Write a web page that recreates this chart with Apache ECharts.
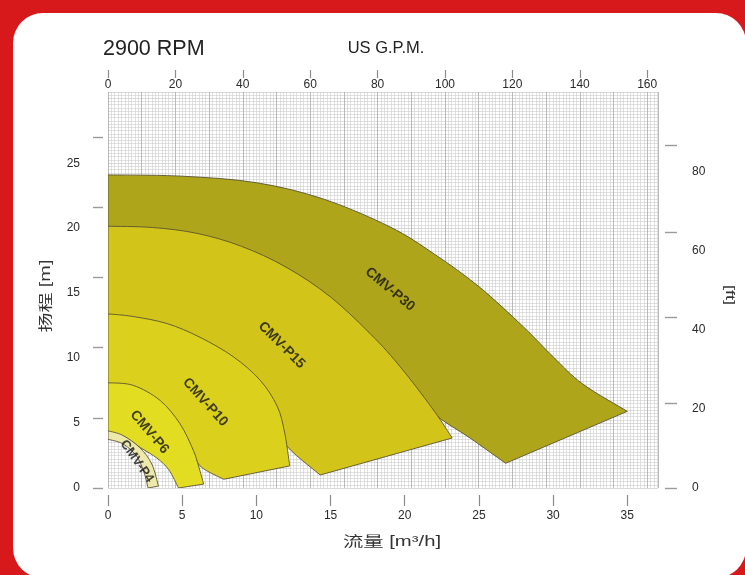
<!DOCTYPE html>
<html>
<head>
<meta charset="utf-8">
<script src="https://cdn.jsdelivr.net/npm/echarts@6/dist/echarts.min.js"></script>
<style>html,body{margin:0;padding:0;background:#d7191c;}#c{width:745px;height:575px;}</style>
</head>
<body>
<div id="c"></div>
<script>
// ---- axis ticks / labels ----
const flowTicks = [0, 5, 10, 15, 20, 25, 30, 35];          // m³/h
const gpmTicks = [0, 20, 40, 60, 80, 100, 120, 140, 160];   // US G.P.M.
const headTicks = [0, 5, 10, 15, 20, 25];                   // m
const feetTicks = [0, 20, 40, 60, 80];                      // ft
const headDashes = [0, 5.4, 10.8, 16.2, 21.6, 27.0];        // m
const feetDashes = [0, 21.3, 43.1, 64.7, 86.5];             // ft
const flowMax = 37.07;   // m³/h
const headMax = 30.48;   // m  (= 100 ft)

// ---- pump ranges: [flow m³/h, head m] ----
const pumpNames = ['CMV-P30', 'CMV-P15', 'CMV-P10', 'CMV-P6', 'CMV-P4'];
const p30Top = [[0,24.1],[5,24.0],[10,23.5],[14.5,22.25],[19,20.1],[22,18.0],[25,15.5],[28,12.4],[30,10.1],[32,8.0],[35.0,5.9]];
const p30Bottom = [[0,19.8],[6,19.3],[12,16.7],[15,14.4],[18,11.0],[20,8.5],[21.9,5.8],[24.4,3.85],[26.8,1.9]];
const p15Top = [[0,20.15],[3,20.05],[6,19.6],[9,18.6],[12,17.0],[15,14.7],[18,11.5],[20,8.9],[22,5.9],[23.2,3.85]];
const p15Bottom = [[0,13.2],[4.0,12.45],[6.2,11.4],[8.45,9.9],[10.25,8.1],[11.2,6.4],[11.8,3.6],[14.3,1.0]];
const p10Top = [[0,13.4],[1.7,13.2],[4.0,12.65],[6.2,11.6],[8.45,10.1],[10.25,8.3],[11.4,6.3],[11.9,4.3],[12.25,1.7]];
const p10Bottom = [[0,7.95],[1.7,7.75],[3.5,6.6],[4.85,4.8],[5.75,2.7],[6.3,1.6],[7.8,0.67]];
const p6Top = [[0,8.1],[1.7,7.9],[3.5,6.75],[4.85,4.95],[5.75,2.9],[6.1,1.7],[6.45,0.3]];
const p6Bottom = [[0,4.3],[1.0,4.0],[2.2,3.1],[3.3,2.3],[4.1,1.4],[4.75,0]];
const p4Top = [[0,4.4],[1.0,4.05],[2.15,3.1],[2.95,1.85],[3.4,0.15]];
const p4Bottom = [[0,3.75],[1.0,3.4],[1.9,2.5],[2.4,1.3],[2.7,0]];

const pumpTops = [p30Top, p15Top, p10Top, p6Top, p4Top];
const pumpBottoms = [p30Bottom, p15Bottom, p10Bottom, p6Bottom, p4Bottom];

// ---- styling (kept separate from data) ----
const pumpColors = ['#aea51a', '#d3c41a', '#dbd11d', '#e3dd22', '#ede9ab'];
const labelSpots = [
  {at: [19.0, 15.3], rot: -40, size: 14},
  {at: [11.7, 11.0], rot: -45, size: 14},
  {at: [6.55, 6.6], rot: -48, size: 14},
  {at: [2.8, 4.3], rot: -50, size: 14},
  {at: [1.95, 2.05], rot: -55, size: 13}
];
const GPM_PER_M3H = 4.40287;

function smoothSeg(pts) {
  let d = '';
  for (let i = 0; i < pts.length - 1; i++) {
    const p0 = pts[i - 1] || pts[i], p1 = pts[i], p2 = pts[i + 1], p3 = pts[i + 2] || pts[i + 1];
    const c1 = [p1[0] + (p2[0] - p0[0]) / 6, p1[1] + (p2[1] - p0[1]) / 6];
    const c2 = [p2[0] - (p3[0] - p1[0]) / 6, p2[1] - (p3[1] - p1[1]) / 6];
    d += ' C' + c1[0] + ',' + c1[1] + ' ' + c2[0] + ',' + c2[1] + ' ' + p2[0] + ',' + p2[1];
  }
  return d;
}

const chart = echarts.init(document.getElementById('c'), null, {renderer: 'canvas'});
const axisText = {color: '#2a2a2a', fontSize: 12, fontFamily: 'Liberation Sans, Arial, sans-serif'};
const nameFont = 'Liberation Sans, Arial, "Noto Sans CJK SC", sans-serif';
const noZero = {show: false, onZero: false};

const option = {
  animation: false,
  backgroundColor: '#d7191c',
  graphic: [
    {
      type: 'rect', z: -10, silent: true,
      shape: {x: 13, y: 13, width: 733, height: 565, r: 30},
      style: {fill: '#ffffff'}
    },
    { // left axis name (stretched along baseline as in the original)
      type: 'text', x: 46, y: 296, rotation: Math.PI / 2, scaleX: 1.42, z: 10,
      style: {text: '扬程 [m]', fontSize: 14, fontFamily: nameFont, fill: '#333', align: 'center', verticalAlign: 'middle'}
    },
    { // bottom axis name
      type: 'text', x: 392, y: 542, scaleX: 1.45, z: 10,
      style: {text: '流量 [m³/h]', fontSize: 14, fontFamily: nameFont, fill: '#333', align: 'center', verticalAlign: 'middle'}
    },
    { // right axis name
      type: 'text', x: 730, y: 295, rotation: -Math.PI / 2, scaleX: 1.39, z: 10,
      style: {text: '[ft]', fontSize: 13, fontFamily: nameFont, fill: '#333', align: 'center', verticalAlign: 'middle'}
    }
  ],
  title: {
    text: '2900 RPM', left: 103, top: 38, padding: 0,
    textStyle: {fontSize: 21.5, fontWeight: 'normal', color: '#222', fontFamily: 'Liberation Sans, Arial, sans-serif'}
  },
  grid: {left: 108, right: 87, top: 92, bottom: 87, containLabel: false},
  xAxis: [
    { // bottom: flow m³/h
      type: 'value', position: 'bottom', min: 0, max: flowMax, interval: 5, offset: 7,
      axisLine: noZero,
      axisTick: {show: true, length: 11, customValues: flowTicks, lineStyle: {color: '#8a8a8a', width: 1.2}},
      axisLabel: {customValues: flowTicks, margin: 15, ...axisText},
      splitLine: {show: false}
    },
    { // top: US GPM labels + grid
      type: 'value', position: 'top', min: 0, max: flowMax * GPM_PER_M3H, interval: 10,
      axisLine: noZero, axisTick: {show: false},
      axisLabel: {customValues: gpmTicks, margin: 1, ...axisText},
      splitLine: {show: true, lineStyle: {color: '#aaaaaa', width: 0.8}},
      minorSplitLine: {show: true, lineStyle: {color: '#cdcdcd', width: 0.6}},
      minorTick: {splitNumber: 10},
      name: 'US G.P.M.', nameLocation: 'middle', nameGap: 35,
      nameTextStyle: {fontSize: 16.5, color: '#222', fontFamily: nameFont, padding: [0, 0, 0, 6]}
    },
    { // top: GPM tick marks
      type: 'value', position: 'top', min: 0, max: flowMax * GPM_PER_M3H, offset: 14,
      axisLine: noZero,
      axisTick: {show: true, length: 8, customValues: gpmTicks, lineStyle: {color: '#8a8a8a', width: 1.2}},
      axisLabel: {show: false}, splitLine: {show: false}
    }
  ],
  yAxis: [
    { // left: head m
      type: 'value', position: 'left', min: 0, max: headMax, interval: 5,
      axisLine: noZero, axisTick: {show: false},
      axisLabel: {customValues: headTicks, margin: 28, ...axisText},
      splitLine: {show: true, lineStyle: {color: '#c8c8c8', width: 0.7}},
      minorSplitLine: {show: true, lineStyle: {color: '#cdcdcd', width: 0.6}},
      minorTick: {splitNumber: 20}
    },
    { // right: head ft
      type: 'value', position: 'right', min: 0, max: headMax / 0.3048, interval: 20,
      axisLine: noZero, axisTick: {show: false},
      axisLabel: {customValues: feetTicks, margin: 34, ...axisText},
      splitLine: {show: false}
    },
    { // left dashes
      type: 'value', position: 'left', min: 0, max: headMax, offset: 5,
      axisLine: noZero,
      axisTick: {show: true, length: 10, customValues: headDashes, lineStyle: {color: '#9a9a9a', width: 1.4}},
      axisLabel: {show: false}, splitLine: {show: false}
    },
    { // right dashes
      type: 'value', position: 'right', min: 0, max: headMax / 0.3048, offset: 7,
      axisLine: noZero,
      axisTick: {show: true, length: 12, customValues: feetDashes, lineStyle: {color: '#9a9a9a', width: 1.4}},
      axisLabel: {show: false}, splitLine: {show: false}
    }
  ],
  series: [
    {
      type: 'custom', coordinateSystem: 'cartesian2d', xAxisIndex: 0, yAxisIndex: 0,
      data: pumpNames.map((n, i) => ({name: n, value: [i]})),
      clip: true,
      renderItem: function (params, api) {
        const i = params.dataIndex;
        const top = pumpTops[i].map(v => api.coord(v));
        const bot = pumpBottoms[i].map(v => api.coord(v)).reverse();
        let d = 'M' + top[0][0] + ',' + top[0][1] + smoothSeg(top);
        d += ' L' + bot[0][0] + ',' + bot[0][1] + smoothSeg(bot) + ' Z';
        return {
          type: 'path',
          shape: {pathData: d},
          style: {fill: pumpColors[i], stroke: '#5b5232', lineWidth: 0.9}
        };
      },
      z: 2
    },
    {
      type: 'scatter', xAxisIndex: 0, yAxisIndex: 0, symbolSize: 0, z: 5, silent: true,
      data: pumpNames.map((n, i) => ({
        name: n, value: labelSpots[i].at,
        label: {rotate: labelSpots[i].rot, fontSize: labelSpots[i].size}
      })),
      label: {
        show: true, position: 'inside', formatter: '{b}', color: '#151515', fontWeight: 'bold',
        fontFamily: 'Liberation Sans, Arial, sans-serif'
      }
    }
  ]
};
chart.setOption(option);
</script>
</body>
</html>
